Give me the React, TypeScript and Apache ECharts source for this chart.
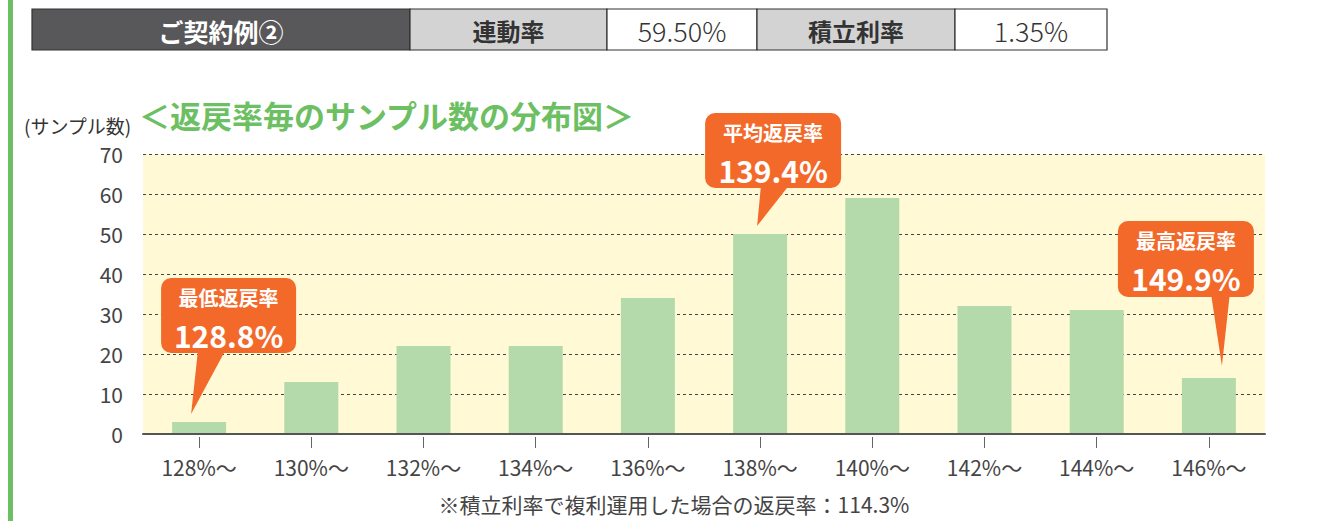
import React, { useEffect, useRef } from 'react';
import * as echarts from 'echarts';

// ---- data ----
const categories = ['128%〜', '130%〜', '132%〜', '134%〜', '136%〜', '138%〜', '140%〜', '142%〜', '144%〜', '146%〜'];
const sampleCounts = [3, 13, 22, 22, 34, 50, 59, 32, 31, 14];
const yMin = 0;
const yMax = 70;
const yInterval = 10;

const tableTexts = ['ご契約例②', '連動率', '59.50%', '積立利率', '1.35%'];
const tableKinds = ['head', 'label', 'value', 'label', 'value'];

const calloutTitles = ['最低返戻率', '平均返戻率', '最高返戻率'];
const calloutValues = ['128.8%', '139.4%', '149.9%'];
const calloutBins = [0, 5, 9];

const chartTitle = '＜返戻率毎のサンプル数の分布図＞';
const yAxisName = '(サンプル数)';
const footNote = '※積立利率で複利運用した場合の返戻率：114.3%';

// ---- layout (positions / styles) ----
const FONT = '"Noto Sans CJK JP", "Noto Sans", sans-serif';
const GREEN = '#6CBF62';
const ORANGE = '#F3692A';
const tableEdges = [32, 410, 607, 757, 955, 1107];
const tableTop = 9;
const tableBottom = 50;
// offsets relative to bar center (cx) and bar top (ty)
const calloutLayout = [
  { left: -38, top: -144, w: 135, h: 75, b1: -1, b2: 27, tipX: -8, tipY: -8 },
  { left: -55, top: -121, w: 136, h: 75, b1: 1, b2: 30, tipX: -3, tipY: -8 },
  { left: -91, top: -157, w: 136, h: 76, b1: 2, b2: 21, tipX: 13, tipY: -12 },
];

function textEl(x: number, y: number, text: string, font: string, fill: string, align = 'center') {
  return {
    type: 'text',
    x,
    y,
    z: 100,
    style: {
      text,
      font,
      fill,
      textAlign: align,
      align,
      textVerticalAlign: 'middle',
      verticalAlign: 'middle',
    },
  };
}

export default function App() {
  const ref = useRef<HTMLDivElement>(null);

  useEffect(() => {
    if (!ref.current) return;
    const chart = echarts.init(ref.current, undefined, { renderer: 'svg' });

    chart.setOption({
      animation: false,
      backgroundColor: '#ffffff',
      textStyle: { fontFamily: FONT },
      grid: {
        left: 143,
        right: 66,
        top: 154,
        bottom: 87,
        show: true,
        backgroundColor: '#FFF9D6',
        borderWidth: 0,
      },
      xAxis: [
        {
          type: 'category',
          data: categories,
          axisLine: { show: true, lineStyle: { color: '#555', width: 2 } },
          axisTick: { show: false },
          axisLabel: { color: '#444', fontSize: 21, margin: 22, fontFamily: FONT },
          z: 10,
        },
        {
          type: 'category',
          data: categories,
          position: 'bottom',
          offset: 3,
          axisLine: { show: false },
          axisTick: { show: true, alignWithLabel: true, length: 11, lineStyle: { color: '#666', width: 1 } },
          axisLabel: { show: false },
        },
      ],
      yAxis: {
        type: 'value',
        min: yMin,
        max: yMax,
        interval: yInterval,
        axisLine: { show: false },
        axisTick: { show: false },
        axisLabel: { color: '#444', fontSize: 21, margin: 20, fontFamily: FONT },
        splitLine: { show: true, lineStyle: { color: '#444', width: 1, type: [3, 3] } },
      },
      series: [
        {
          type: 'bar',
          data: sampleCounts,
          barWidth: 54,
          itemStyle: { color: '#B4DAAB' },
          xAxisIndex: 0,
        },
      ],
    });

    const graphics: any[] = [];
    // left green border
    graphics.push({ type: 'rect', shape: { x: 8, y: 0, width: 5, height: 521 }, style: { fill: GREEN }, z: 100 });

    // table
    for (let i = 0; i < tableTexts.length; i++) {
      const x1 = tableEdges[i];
      const x2 = tableEdges[i + 1];
      const kind = tableKinds[i];
      const fill = kind === 'head' ? '#58585A' : kind === 'label' ? '#D3D3D3' : '#FFFFFF';
      graphics.push({
        type: 'rect',
        shape: { x: x1, y: tableTop, width: x2 - x1, height: tableBottom - tableTop },
        style: { fill, stroke: '#333', lineWidth: 1.2 },
        z: 100,
      });
      const font =
        kind === 'value'
          ? `300 27px ${FONT}`
          : kind === 'head'
          ? `bold 25px ${FONT}`
          : `bold 24px ${FONT}`;
      const color = kind === 'head' ? '#FFFFFF' : '#333333';
      graphics.push(textEl((x1 + x2) / 2, (tableTop + tableBottom) / 2 + 1, tableTexts[i], font, color));
    }

    // title + y axis name
    graphics.push(textEl(139, 114, chartTitle, `bold 31px ${FONT}`, GREEN, 'left'));
    graphics.push(textEl(24, 125, yAxisName, `normal 19px ${FONT}`, '#333', 'left'));

    // foot note
    graphics.push(textEl(674, 504, footNote, `normal 21px ${FONT}`, '#444'));

    // callouts, anchored on the bars via the chart's own scales
    for (let k = 0; k < calloutBins.length; k++) {
      const bin = calloutBins[k];
      const p = chart.convertToPixel({ seriesIndex: 0 }, [bin, sampleCounts[bin]]) as number[];
      const cx = p[0];
      const ty = p[1];
      const L = calloutLayout[k];
      const rx = cx + L.left;
      const ry = ty + L.top;
      const rb = ry + L.h;
      graphics.push({
        type: 'polygon',
        shape: { points: [[cx + L.b1, rb - 4], [cx + L.b2, rb - 4], [cx + L.tipX, ty + L.tipY]] },
        style: { fill: ORANGE },
        z: 100,
      });
      graphics.push({
        type: 'rect',
        shape: { x: rx, y: ry, width: L.w, height: L.h, r: 10 },
        style: { fill: ORANGE },
        z: 100,
      });
      graphics.push(textEl(rx + L.w / 2, ry + 19, calloutTitles[k], `bold 20px ${FONT}`, '#FFFFFF'));
      graphics.push(textEl(rx + L.w / 2, ry + 57, calloutValues[k], `bold 30px ${FONT}`, '#FFFFFF'));
    }

    chart.setOption({ graphic: { elements: graphics } });

    return () => {
      chart.dispose();
    };
  }, []);

  return (
    <div
      ref={ref}
      style={{ position: 'absolute', left: 0, top: 0, width: 1331, height: 521, background: '#fff' }}
    />
  );
}
